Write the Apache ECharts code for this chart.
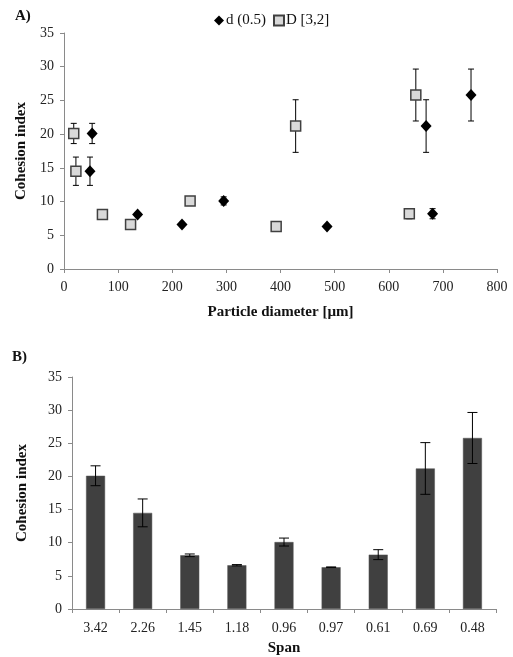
<!doctype html>
<html>
<head>
<meta charset='utf-8'>
<title>Cohesion index</title>
<style>
html, body { margin: 0; padding: 0; background: #fff; }
#chart { width: 513px; height: 657px; }
</style>
</head>
<body>
<div id="chart"></div>
<script src="https://cdn.jsdelivr.net/npm/echarts@6/dist/echarts.min.js"></script>
<script>
// data
var spans = ['3.42', '2.26', '1.45', '1.18', '0.96', '0.97', '0.61', '0.69', '0.48'];
var cohesion = [20.1, 14.5, 8.1, 6.6, 10.1, 6.3, 8.2, 21.2, 25.8];
var cohesionErr = [1.5, 2.1, 0.2, 0.1, 0.6, 0.05, 0.75, 3.9, 3.85];
var d05 = [52, 48, 136, 218, 295, 486, 681, 669, 752];   // d (0.5), µm
var d32 = [18, 22, 71, 123, 233, 392, 638, 428, 650];    // D [3,2], µm

var serif = 'Liberation Serif';
var axisGray = '#8a8a8a';

function pts(xs) {
    return xs.map(function (x, i) { return [x, cohesion[i]]; });
}
function errRows(xs) {
    return xs.map(function (x, i) { return [x, cohesion[i] - cohesionErr[i], cohesion[i] + cohesionErr[i]]; });
}

// vertical error bar with caps
function errorBar(capHalf) {
    return function (params, api) {
        var x = api.value(0);
        var lo = api.coord([x, api.value(1)]);
        var hi = api.coord([x, api.value(2)]);
        var st = { stroke: '#000', lineWidth: 1 };
        return {
            type: 'group',
            children: [
                { type: 'line', shape: { x1: hi[0], y1: hi[1], x2: lo[0], y2: lo[1] }, style: st },
                { type: 'line', shape: { x1: hi[0] - capHalf, y1: hi[1], x2: hi[0] + capHalf, y2: hi[1] }, style: st },
                { type: 'line', shape: { x1: lo[0] - capHalf, y1: lo[1], x2: lo[0] + capHalf, y2: lo[1] }, style: st }
            ]
        };
    };
}

var labelStyle = { color: '#222', fontFamily: serif, fontSize: 14 };
var nameStyle = { color: '#111', fontFamily: serif, fontSize: 15, fontWeight: 'bold' };
var yCommon = {
    type: 'value', min: 0, max: 35, interval: 5,
    name: 'Cohesion index', nameLocation: 'middle', nameRotate: 90,
    nameTextStyle: nameStyle,
    axisLine: { show: true, lineStyle: { color: axisGray } },
    axisTick: { show: true, length: 4, lineStyle: { color: axisGray } },
    axisLabel: Object.assign({ margin: 10 }, labelStyle),
    splitLine: { show: false }
};

var chart = echarts.init(document.getElementById('chart'));
chart.setOption({
    animation: false,
    backgroundColor: '#fff',
    textStyle: { fontFamily: serif },
    graphic: [
        { type: 'text', left: 15, top: 9, style: { text: 'A)', font: 'bold 15px "Liberation Serif"', fill: '#111' } },
        { type: 'text', left: 12, top: 350, style: { text: 'B)', font: 'bold 15px "Liberation Serif"', fill: '#111' } }
    ],
    legend: {
        left: 209, top: 8,
        itemWidth: 10, itemHeight: 10, itemGap: 7,
        textStyle: { color: '#111', fontFamily: serif, fontSize: 15, padding: [0, 0, 0, -3] },
        data: [
            { name: 'd (0.5)', icon: 'diamond' },
            { name: 'D [3,2]', icon: 'rect' }
        ]
    },
    grid: [
        { left: 64, right: 16, top: 33, height: 236 },
        { left: 72, right: 17, top: 377, height: 235 }
    ],
    xAxis: [
        {
            gridIndex: 0, type: 'value', min: 0, max: 800, interval: 100,
            name: 'Particle diameter [µm]', nameLocation: 'middle', nameGap: 36,
            nameTextStyle: nameStyle,
            axisLine: { show: true, onZero: false, lineStyle: { color: axisGray } },
            axisTick: { show: true, length: 4, lineStyle: { color: axisGray } },
            axisLabel: Object.assign({ margin: 11 }, labelStyle),
            splitLine: { show: false }
        },
        {
            gridIndex: 1, type: 'category', data: spans, boundaryGap: true,
            name: 'Span', nameLocation: 'middle', nameGap: 32,
            nameTextStyle: nameStyle,
            axisLine: { show: true, lineStyle: { color: axisGray } },
            axisTick: { show: true, length: 4, alignWithLabel: false, lineStyle: { color: axisGray } },
            axisLabel: Object.assign({ margin: 12, interval: 0 }, labelStyle)
        }
    ],
    yAxis: [
        Object.assign({ gridIndex: 0, nameGap: 34 }, yCommon),
        Object.assign({ gridIndex: 1, nameGap: 42 }, yCommon)
    ],
    series: [
        {
            name: 'd (0.5) err', type: 'custom', xAxisIndex: 0, yAxisIndex: 0, z: 1,
            renderItem: errorBar(3), encode: { x: 0, y: [1, 2] },
            data: errRows(d05), silent: true
        },
        {
            name: 'D [3,2] err', type: 'custom', xAxisIndex: 0, yAxisIndex: 0, z: 1,
            renderItem: errorBar(3), encode: { x: 0, y: [1, 2] },
            data: errRows(d32), silent: true
        },
        {
            name: 'd (0.5)', type: 'scatter', xAxisIndex: 0, yAxisIndex: 0, z: 3,
            symbol: 'diamond', symbolSize: [11, 12],
            itemStyle: { color: '#000', opacity: 1 },
            data: pts(d05)
        },
        {
            name: 'D [3,2]', type: 'scatter', xAxisIndex: 0, yAxisIndex: 0, z: 3,
            symbol: 'rect', symbolSize: 10,
            itemStyle: { color: '#d9d9d9', borderColor: '#404040', borderWidth: 1.5, opacity: 1 },
            data: pts(d32)
        },
        {
            name: 'bars', type: 'bar', xAxisIndex: 1, yAxisIndex: 1,
            barWidth: 19,
            itemStyle: { color: '#404040', borderColor: '#555', borderWidth: 0.5 },
            data: cohesion
        },
        {
            name: 'bars err', type: 'custom', xAxisIndex: 1, yAxisIndex: 1, z: 5,
            renderItem: errorBar(5), encode: { x: 0, y: [1, 2] },
            data: spans.map(function (s, i) { return [i, cohesion[i] - cohesionErr[i], cohesion[i] + cohesionErr[i]]; }),
            silent: true
        }
    ]
});
</script>
</body>
</html>
